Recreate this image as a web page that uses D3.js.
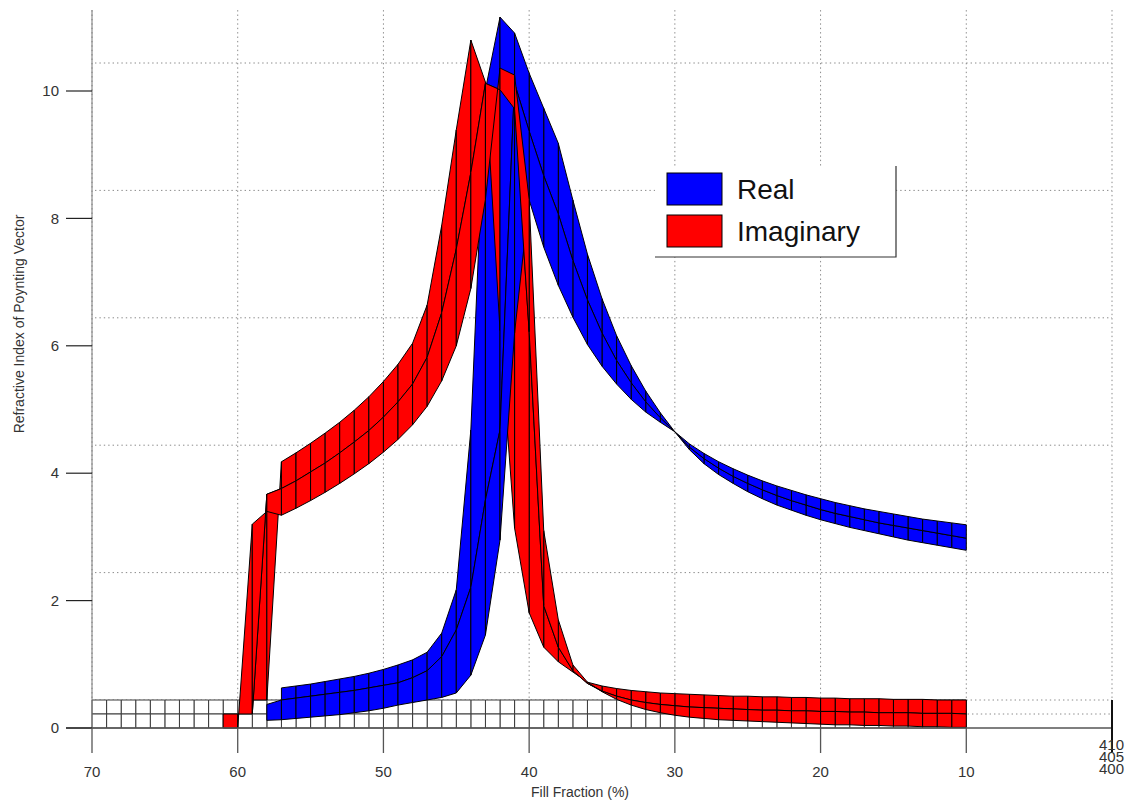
<!DOCTYPE html>
<html>
<head>
<meta charset="utf-8">
<script src="https://cdn.jsdelivr.net/npm/d3@7"></script>
<style>
  html, body { margin: 0; padding: 0; background: #fff; }
  svg { display: block; font-family: "Liberation Sans", Arial, sans-serif; }
</style>
</head>
<body>
<svg id="chart" width="1131" height="806"></svg>
<script>
// Fill fraction samples (%), one column of the surfaces per value
const fillFractions = [10,11,12,13,14,15,16,17,18,19,20,21,22,23,24,25,26,27,28,29,
  30,31,32,33,34,35,36,37,38,39,40,41,42,43,44,45,46,47,48,49,
  50,51,52,53,54,55,56,57,58,59,60,61];

// Wavelength rows (nm), front to back
const wavelengths = [400, 405, 410];

// Real part of the index, one row per wavelength
const real400 = [3.19,3.22,3.25,3.28,3.32,3.36,3.40,3.44,3.49,3.54,3.60,3.66,3.73,3.80,3.88,3.97,4.07,4.18,4.31,4.46,
  4.65,4.80,4.96,5.16,5.40,5.68,6.02,6.45,6.95,7.55,8.29,6.20,2.95,1.46,0.83,0.55,0.48,0.44,0.40,0.36,
  0.31,0.27,0.24,0.21,0.19,0.17,0.15,0.13,0.12,null,null,null];
const real405 = [2.76,2.80,2.84,2.88,2.92,2.96,3.00,3.05,3.10,3.15,3.21,3.28,3.35,3.43,3.52,3.62,3.73,3.86,4.01,4.19,
  4.43,4.65,4.90,5.20,5.55,5.98,6.50,7.12,7.85,8.45,9.15,9.90,4.46,3.36,1.99,1.32,0.90,0.68,0.57,0.49,
  0.45,0.41,0.37,0.34,0.31,0.28,0.25,0.22,0.15,null,null,null];
const real410 = [2.35,2.39,2.43,2.47,2.51,2.56,2.61,2.66,2.71,2.77,2.83,2.90,2.98,3.06,3.16,3.27,3.40,3.54,3.71,3.93,
  4.21,4.51,4.85,5.25,5.72,6.30,7.00,7.85,8.74,9.29,9.84,10.47,10.72,9.58,4.24,1.73,1.05,0.75,0.63,0.55,
  0.48,0.42,0.37,0.33,0.29,0.25,0.22,0.19,null,null,null,null];

// Imaginary part of the index, one row per wavelength
const imag400 = [0.01,0.01,0.02,0.02,0.03,0.03,0.04,0.04,0.05,0.05,0.06,0.07,0.08,0.09,0.10,0.11,0.12,0.13,0.15,0.17,
  0.20,0.24,0.29,0.36,0.45,0.57,0.72,0.99,1.70,3.10,8.30,10.25,10.36,8.30,6.90,6.00,5.45,5.05,4.76,4.53,
  4.33,4.15,3.99,3.84,3.70,3.57,3.45,3.34,3.40,3.20,0.00,0.00];
const imag405 = [0.00,0.01,0.01,0.01,0.02,0.02,0.02,0.03,0.03,0.04,0.04,0.05,0.05,0.06,0.06,0.07,0.08,0.09,0.10,0.11,
  0.13,0.15,0.18,0.22,0.28,0.36,0.48,0.68,1.05,1.70,6.00,9.50,9.80,9.90,8.50,7.30,6.30,5.60,5.18,4.90,
  4.66,4.45,4.27,4.10,3.94,3.80,3.66,3.54,3.45,0.00,0.00,0.00];
const imag410 = [0.00,0.00,0.00,0.01,0.01,0.01,0.02,0.02,0.02,0.03,0.03,0.04,0.04,0.05,0.05,0.06,0.06,0.07,0.08,0.09,
  0.10,0.11,0.13,0.15,0.18,0.22,0.28,0.44,0.60,0.83,1.37,2.70,5.80,9.70,10.36,8.95,7.45,6.20,5.60,5.27,
  5.00,4.76,4.55,4.36,4.19,4.03,3.88,3.74,0.00,0.00,null,null];

// Zero plane underneath the data
const floorFractions = [10,11,12,13,14,15,16,17,18,19,20,21,22,23,24,25,26,27,28,29,30,31,32,33,34,35,36,37,38,39,
  40,41,42,43,44,45,46,47,48,49,50,51,52,53,54,55,56,57,58,59,60,61,62,63,64,65,66,67,68,69,70];
const floorLevel = 0;

// Axis ticks
const xTicks = [70, 60, 50, 40, 30, 20, 10];
const zTicks = [0, 2, 4, 6, 8, 10];
const lambdaTicks = [410, 405, 400];

const legendItems = [
  { label: "Real", color: "#0000ff" },
  { label: "Imaginary", color: "#ff0000" }
];

// ---------- projection (azimuth 0, small elevation) ----------
const xScale = d3.scaleLinear().domain([70, 0]).range([92, 1112]);
const zScale = d3.scaleLinear().domain([0, 10]).range([728, 91]);
const lamShift = d3.scaleLinear().domain([400, 410]).range([0, -28]);
const zTop = 10.83;

function project(f, lam, z) {
  return [xScale(f), zScale(z) + lamShift(lam)];
}

const svg = d3.select("#chart");
const gridColor = "#8a8a8a";
const dash = "1.4,3";

// ---------- back wall and floor grid ----------
const grid = svg.append("g");
const back = 410;
const xLeft = 70, xRight = 0;

// horizontal lines on the back wall
grid.selectAll("line.zg").data(zTicks).join("line")
  .attr("x1", xScale(xLeft) + 3).attr("x2", xScale(xRight))
  .attr("y1", d => project(0, back, d)[1]).attr("y2", d => project(0, back, d)[1])
  .attr("stroke", gridColor).attr("stroke-dasharray", dash);

// vertical lines on the back wall
grid.selectAll("line.xg").data(xTicks.concat([0])).join("line")
  .attr("x1", d => xScale(d)).attr("x2", d => xScale(d))
  .attr("y1", project(0, back, zTop)[1]).attr("y2", project(0, back, 0)[1])
  .attr("stroke", gridColor).attr("stroke-dasharray", dash);

// floor line across wavelength
grid.selectAll("line.lg").data([405]).join("line")
  .attr("x1", xScale(xLeft)).attr("x2", xScale(xRight))
  .attr("y1", d => project(0, d, 0)[1]).attr("y2", d => project(0, d, 0)[1])
  .attr("stroke", gridColor).attr("stroke-dasharray", dash);

// ---------- surfaces ----------
function buildQuads(fracs, rows, lams, fill, stroke, kind) {
  const quads = [];
  for (let i = 0; i < rows.length - 1; i++) {
    for (let j = 0; j < fracs.length - 1; j++) {
      const c = [
        [fracs[j], lams[i], rows[i][j]],
        [fracs[j + 1], lams[i], rows[i][j + 1]],
        [fracs[j + 1], lams[i + 1], rows[i + 1][j + 1]],
        [fracs[j], lams[i + 1], rows[i + 1][j]]
      ];
      if (c.some(p => p[2] == null)) continue;
      const lamMid = (lams[i] + lams[i + 1]) / 2;
      const zMid = d3.mean(c, p => p[2]);
      // painter's order: farther wavelength strips first, higher patches nearer the eye
      const depth = (lamMid - 400) / 10 * 320 - zMid / 11 * 61 + (kind === "floor" ? 0.5 : 0);
      quads.push({ pts: c.map(p => project(p[0], p[1], p[2])), fill, stroke, depth });
    }
  }
  return quads;
}

const floorRows = wavelengths.map(() => floorFractions.map(() => floorLevel));
let quads = [];
quads = quads.concat(buildQuads(floorFractions, floorRows, wavelengths, "#ffffff", "#3a3a3a", "floor"));
quads = quads.concat(buildQuads(fillFractions, [real400, real405, real410], wavelengths, "#0000ff", "#000", "real"));
quads = quads.concat(buildQuads(fillFractions, [imag400, imag405, imag410], wavelengths, "#ff0000", "#000", "imag"));
quads.sort((a, b) => b.depth - a.depth);

const line = d3.line();
svg.append("g").selectAll("path").data(quads).join("path")
  .attr("d", d => line(d.pts) + "Z")
  .attr("fill", d => d.fill)
  .attr("stroke", d => d.stroke)
  .attr("stroke-width", 1)
  .attr("stroke-linejoin", "round");

// ---------- axes ----------
const axisColor = "#555";
const axes = svg.append("g");

// vertical value axis
axes.append("line")
  .attr("x1", xScale(70)).attr("x2", xScale(70))
  .attr("y1", project(0, back, zTop)[1]).attr("y2", zScale(0))
  .attr("stroke", "#777").attr("stroke-width", 1);

// baseline
axes.append("line")
  .attr("x1", 66).attr("x2", xScale(0))
  .attr("y1", zScale(0)).attr("y2", zScale(0))
  .attr("stroke", axisColor).attr("stroke-width", 1.5);

// value ticks
axes.selectAll("line.zt").data(zTicks).join("line")
  .attr("x1", 66).attr("x2", xScale(70))
  .attr("y1", d => zScale(d)).attr("y2", d => zScale(d))
  .attr("stroke", "#222").attr("stroke-width", 1.2);
axes.selectAll("text.zt").data(zTicks).join("text")
  .attr("x", 59).attr("y", d => zScale(d))
  .attr("dy", "0.35em").attr("text-anchor", "end")
  .attr("font-size", 15).attr("fill", "#333")
  .text(d => d);

// fill fraction ticks
axes.selectAll("line.xt").data(xTicks).join("line")
  .attr("x1", d => xScale(d)).attr("x2", d => xScale(d))
  .attr("y1", zScale(0)).attr("y2", zScale(0) + 25)
  .attr("stroke", axisColor).attr("stroke-width", 1.3);
axes.selectAll("text.xt").data(xTicks).join("text")
  .attr("x", d => xScale(d)).attr("y", zScale(0) + 44)
  .attr("dy", "0.35em").attr("text-anchor", "middle")
  .attr("font-size", 15).attr("fill", "#333")
  .text(d => d);

// wavelength axis (seen almost end-on, so its labels stack tightly)
axes.append("line")
  .attr("x1", xScale(0)).attr("x2", xScale(0))
  .attr("y1", project(0, back, 0)[1]).attr("y2", zScale(0) + 24)
  .attr("stroke", "#111").attr("stroke-width", 2);
axes.selectAll("text.lt").data(lambdaTicks).join("text")
  .attr("x", xScale(0) - 13)
  .attr("y", d => zScale(0) + 17 + (410 - d) / 5 * 12)
  .attr("dy", "0.35em")
  .attr("font-size", 15).attr("fill", "#333")
  .text(d => d);

// axis titles
svg.append("text")
  .attr("x", 580).attr("y", 797)
  .attr("text-anchor", "middle").attr("font-size", 14).attr("fill", "#333")
  .text("Fill Fraction (%)");
svg.append("text")
  .attr("transform", "translate(24,324) rotate(-90)")
  .attr("text-anchor", "middle").attr("font-size", 14).attr("fill", "#333")
  .text("Refractive Index of Poynting Vector");

// ---------- legend ----------
const lg = svg.append("g").attr("transform", "translate(655,166)");
lg.append("rect").attr("x", 0).attr("y", 0).attr("width", 241).attr("height", 91).attr("fill", "#fff");
lg.append("path").attr("d", "M0,91H241V0").attr("fill", "none").attr("stroke", "#333").attr("stroke-width", 1.2);
const li = lg.selectAll("g.item").data(legendItems).join("g")
  .attr("transform", (d, i) => `translate(12,${7 + i * 42})`);
li.append("rect").attr("width", 55).attr("height", 32)
  .attr("fill", d => d.color).attr("stroke", "#000").attr("stroke-width", 1);
li.append("text").attr("x", 70).attr("y", 16).attr("dy", "0.36em")
  .attr("font-size", 28).attr("fill", "#111")
  .text(d => d.label);
</script>
</body>
</html>
